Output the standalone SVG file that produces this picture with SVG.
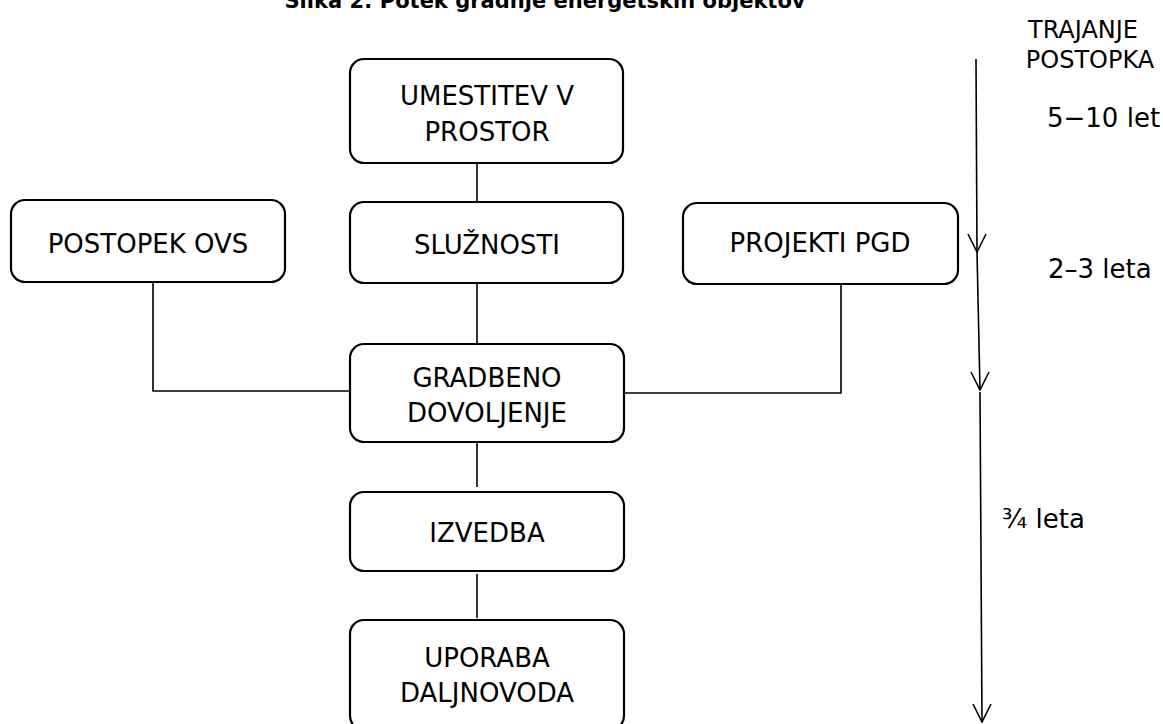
<svg xmlns="http://www.w3.org/2000/svg" width="1163" height="724" viewBox="0 0 1163 724">
<style>
.box{fill:#fff;stroke:#000;stroke-width:2.2}
.t{font-family:"DejaVu Sans",Verdana,sans-serif;font-size:26px;fill:#000;text-anchor:middle}
.l{font-family:"DejaVu Sans",Verdana,sans-serif;font-size:26px;fill:#000}
.c{fill:none;stroke:#000;stroke-width:1.6}
</style>
<defs>
<marker id="ah" markerWidth="20" markerHeight="20" refX="10" refY="19" orient="0" markerUnits="userSpaceOnUse">
<path d="M1,1 L10,19 L19,1" fill="none" stroke="#000" stroke-width="1.6"/>
</marker>
</defs>
<text x="545" y="8" font-family="DejaVu Sans,Verdana,sans-serif" font-size="21" font-weight="bold" text-anchor="middle">Slika 2: Potek gradnje energetskih objektov</text>
<g id="connectors">
<path class="c" d="M477,163 V202"/>
<path class="c" d="M477,283 V344"/>
<path class="c" d="M153,282 V391 H350"/>
<path class="c" d="M841,284 V393 H624"/>
<path class="c" d="M477,442 V487"/>
<path class="c" d="M477,574 V618"/>
<path class="c" d="M976,59 L977,252" marker-end="url(#ah)"/>
<path class="c" d="M977,252 L980,390" marker-end="url(#ah)"/>
<path class="c" d="M980,392 L982,722" marker-end="url(#ah)"/>
</g>
<g id="umestitev">
<rect class="box" x="350" y="59" width="273" height="104" rx="14"/>
<text class="t" x="487" y="105">UMESTITEV V</text>
<text class="t" x="487" y="141">PROSTOR</text>
</g>
<g id="postopek">
<rect class="box" x="11" y="200" width="274" height="82" rx="14"/>
<text class="t" x="148" y="253">POSTOPEK OVS</text>
</g>
<g id="sluznosti">
<rect class="box" x="350" y="202" width="273" height="81" rx="14"/>
<text class="t" x="487" y="254">SLUŽNOSTI</text>
</g>
<g id="projekti">
<rect class="box" x="683" y="203" width="275" height="81" rx="14"/>
<text class="t" x="820" y="252">PROJEKTI PGD</text>
</g>
<g id="gradbeno">
<rect class="box" x="350" y="344" width="274" height="98" rx="14"/>
<text class="t" x="487" y="387">GRADBENO</text>
<text class="t" x="487" y="422">DOVOLJENJE</text>
</g>
<g id="izvedba">
<rect class="box" x="350" y="492" width="274" height="79" rx="14"/>
<text class="t" x="487" y="542">IZVEDBA</text>
</g>
<g id="uporaba">
<rect class="box" x="350" y="620" width="274" height="110" rx="14"/>
<text class="t" x="487" y="667">UPORABA</text>
<text class="t" x="487" y="702">DALJNOVODA</text>
</g>
<g id="labels">
<text class="l" x="1083" y="38" text-anchor="middle" font-size="24" style="font-size:24px">TRAJANJE</text>
<text class="l" x="1090" y="68" text-anchor="middle" style="font-size:24px">POSTOPKA</text>
<text class="l" x="1047" y="127">5−10 let</text>
<text class="l" x="1048" y="278">2–3 leta</text>
<text class="l" x="1002" y="528">¾ leta</text>
</g>
</svg>
